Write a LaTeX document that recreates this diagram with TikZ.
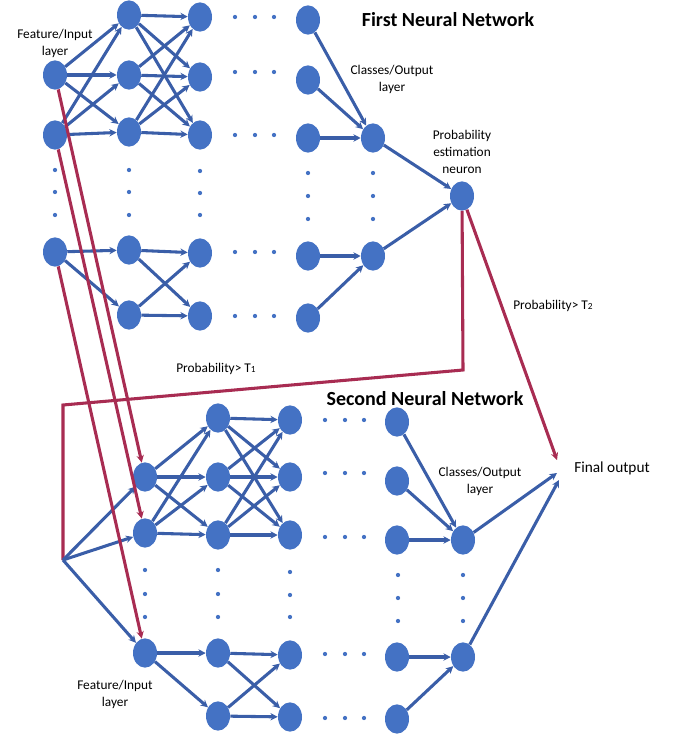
\documentclass[tikz,border=0pt]{standalone}
\usepackage{fontspec}
\setmainfont{Carlito}
\usepackage{tikz}
\usetikzlibrary{shapes.geometric, arrows.meta, positioning}

\definecolor{nnblue}{RGB}{68,114,196}
\definecolor{edgeblue}{RGB}{58,94,168}
\definecolor{thresred}{RGB}{168,44,82}

\begin{document}
\begin{tikzpicture}[x=0.75pt, y=-0.75pt]
    \tikzstyle{neuron} = [
        ellipse, fill=nnblue, inner sep=0pt,
        minimum width=18pt, minimum height=22pt
    ]

    \tikzstyle{edge} = [
        draw=edgeblue, line width=2.3pt, -{Stealth[length=5.5pt, width=5.5pt]}
    ]

    \tikzstyle{thres} = [
        draw=thresred, line width=2.3pt
    ]

    \tikzstyle{desc} = [align=center, font=\fontsize{10}{12.7}\selectfont]

    \tikzstyle{title} = [font=\fontsize{15}{18}\selectfont\bfseries]

    \useasboundingbox (0,0) rectangle (676,734);

    % First network: input layer
    \node[neuron] (i1) at (55,75) {};
    \node[neuron] (i2) at (55,135) {};
    \node[neuron] (i3) at (55,252) {};

    % First network: hidden layer 1
    \node[neuron] (a1) at (129,15) {};
    \node[neuron] (a2) at (129,75) {};
    \node[neuron] (a3) at (129,132) {};
    \node[neuron] (a4) at (129,250) {};
    \node[neuron] (a5) at (129,315) {};

    % First network: hidden layer 2
    \node[neuron] (b1) at (200,17) {};
    \node[neuron] (b2) at (200,77) {};
    \node[neuron] (b3) at (200,135) {};
    \node[neuron] (b4) at (200,253) {};
    \node[neuron] (b5) at (200,316) {};

    % First network: last hidden layer
    \node[neuron] (c1) at (308,20) {};
    \node[neuron] (c2) at (308,80) {};
    \node[neuron] (c3) at (308,138) {};
    \node[neuron] (c4) at (308,256) {};
    \node[neuron] (c5) at (308,318) {};

    % First network: output layer
    \node[neuron] (o1) at (373,138) {};
    \node[neuron] (o2) at (373,256) {};
    \node[neuron] (prob) at (462,196) {};

    % First network: labels
    \node[desc, above=-2pt of i1] (feat1) {Feature/Input\\layer};
    \node[title] (title1) at (448,20) {First Neural Network};
    \node[desc] (cls1) at (392,79) {Classes/Output\\layer};
    \node[desc, above=2pt of prob] (probdesc) {Probability\\estimation\\neuron};

    % First network: dots
    \fill[nnblue] (55,170) circle (1.6pt) (55,192) circle (1.6pt) (55,215) circle (1.6pt);
    \fill[nnblue] (129,170) circle (1.6pt) (129,192) circle (1.6pt) (129,215) circle (1.6pt);
    \fill[nnblue] (200,171) circle (1.6pt) (200,193) circle (1.6pt) (200,215) circle (1.6pt);
    \fill[nnblue] (308,173) circle (1.6pt) (308,196) circle (1.6pt) (308,219) circle (1.6pt);
    \fill[nnblue] (373,173) circle (1.6pt) (373,196) circle (1.6pt) (373,219) circle (1.6pt);
    \fill[nnblue] (235,17) circle (1.6pt) (255,17) circle (1.6pt) (274,17) circle (1.6pt);
    \fill[nnblue] (235,72) circle (1.6pt) (255,72) circle (1.6pt) (274,72) circle (1.6pt);
    \fill[nnblue] (235,135) circle (1.6pt) (255,135) circle (1.6pt) (274,135) circle (1.6pt);
    \fill[nnblue] (235,252) circle (1.6pt) (255,252) circle (1.6pt) (274,252) circle (1.6pt);
    \fill[nnblue] (235,316) circle (1.6pt) (255,316) circle (1.6pt) (274,316) circle (1.6pt);

    % First network: input -> hidden 1
    \draw[edge] (i1) -- (a1);
    \draw[edge] (i1) -- (a2);
    \draw[edge] (i1) -- (a3);
    \draw[edge] (i2) -- (a1);
    \draw[edge] (i2) -- (a2);
    \draw[edge] (i2) -- (a3);
    \draw[edge] (i3) -- (a4);
    \draw[edge] (i3) -- (a5);

    % First network: hidden 1 -> hidden 2
    \draw[edge] (a1) -- (b1);
    \draw[edge] (a1) -- (b2);
    \draw[edge] (a1) -- (b3);
    \draw[edge] (a2) -- (b1);
    \draw[edge] (a2) -- (b2);
    \draw[edge] (a2) -- (b3);
    \draw[edge] (a3) -- (b1);
    \draw[edge] (a3) -- (b2);
    \draw[edge] (a3) -- (b3);
    \draw[edge] (a4) -- (b4);
    \draw[edge] (a4) -- (b5);
    \draw[edge] (a5) -- (b4);
    \draw[edge] (a5) -- (b5);

    % First network: last hidden -> output -> probability
    \draw[edge] (c1) -- (o1);
    \draw[edge] (c2) -- (o1);
    \draw[edge] (c3) -- (o1);
    \draw[edge] (c4) -- (o2);
    \draw[edge] (c5) -- (o2);
    \draw[edge] (o1) -- (prob);
    \draw[edge] (o2) -- (prob);

    % Second network: input layer
    \node[neuron] (j1) at (145,477) {};
    \node[neuron] (j2) at (145,533) {};
    \node[neuron] (j3) at (145,653) {};

    % Second network: hidden layer 1
    \node[neuron] (d1) at (218,418) {};
    \node[neuron] (d2) at (218,477) {};
    \node[neuron] (d3) at (218,535) {};
    \node[neuron] (d4) at (218,653) {};
    \node[neuron] (d5) at (218,716) {};

    % Second network: hidden layer 2
    \node[neuron] (e1) at (290,420) {};
    \node[neuron] (e2) at (290,477) {};
    \node[neuron] (e3) at (290,535) {};
    \node[neuron] (e4) at (290,655) {};
    \node[neuron] (e5) at (290,717) {};

    % Second network: last hidden layer
    \node[neuron] (f1) at (397,422) {};
    \node[neuron] (f2) at (397,481) {};
    \node[neuron] (f3) at (397,540) {};
    \node[neuron] (f4) at (397,657) {};
    \node[neuron] (f5) at (397,719) {};

    % Second network: output layer
    \node[neuron] (p1) at (463,540) {};
    \node[neuron] (p2) at (463,657) {};

    % Second network: labels
    \node[title] (title2) at (425,399) {Second Neural Network};
    \node[desc] (cls2) at (480,481) {Classes/Output\\layer};
    \node[desc] (feat2) at (115,694) {Feature/Input\\layer};
    \node[desc, font=\fontsize{11.5}{14}\selectfont] (final) at (612,468) {Final output};
    \node[desc] (t1) at (216,369) {Probability> T{\fontsize{7}{8}\selectfont 1}};
    \node[desc] (t2) at (553,306) {Probability> T{\fontsize{7}{8}\selectfont 2}};

    % Second network: dots
    \fill[nnblue] (145,570) circle (1.6pt) (145,594) circle (1.6pt) (145,617) circle (1.6pt);
    \fill[nnblue] (218,570) circle (1.6pt) (218,594) circle (1.6pt) (218,617) circle (1.6pt);
    \fill[nnblue] (290,572) circle (1.6pt) (290,595) circle (1.6pt) (290,617) circle (1.6pt);
    \fill[nnblue] (398,575) circle (1.6pt) (398,598) circle (1.6pt) (398,621) circle (1.6pt);
    \fill[nnblue] (463,575) circle (1.6pt) (463,598) circle (1.6pt) (463,621) circle (1.6pt);
    \fill[nnblue] (325,420) circle (1.6pt) (345,420) circle (1.6pt) (364,420) circle (1.6pt);
    \fill[nnblue] (325,473) circle (1.6pt) (345,473) circle (1.6pt) (364,473) circle (1.6pt);
    \fill[nnblue] (325,537) circle (1.6pt) (345,537) circle (1.6pt) (364,537) circle (1.6pt);
    \fill[nnblue] (325,654) circle (1.6pt) (345,654) circle (1.6pt) (364,654) circle (1.6pt);
    \fill[nnblue] (325,718) circle (1.6pt) (345,718) circle (1.6pt) (364,718) circle (1.6pt);

    % Second network: input -> hidden 1
    \draw[edge] (j1) -- (d1);
    \draw[edge] (j1) -- (d2);
    \draw[edge] (j1) -- (d3);
    \draw[edge] (j2) -- (d1);
    \draw[edge] (j2) -- (d2);
    \draw[edge] (j2) -- (d3);
    \draw[edge] (j3) -- (d4);
    \draw[edge] (j3) -- (d5);

    % Second network: hidden 1 -> hidden 2
    \draw[edge] (d1) -- (e1);
    \draw[edge] (d1) -- (e2);
    \draw[edge] (d1) -- (e3);
    \draw[edge] (d2) -- (e1);
    \draw[edge] (d2) -- (e2);
    \draw[edge] (d2) -- (e3);
    \draw[edge] (d3) -- (e1);
    \draw[edge] (d3) -- (e2);
    \draw[edge] (d3) -- (e3);
    \draw[edge] (d4) -- (e4);
    \draw[edge] (d4) -- (e5);
    \draw[edge] (d5) -- (e4);
    \draw[edge] (d5) -- (e5);

    % Second network: last hidden -> output -> final
    \coordinate (fin_r) at (557,460);
    \coordinate (fin_a) at (557,473);
    \coordinate (fin_b) at (559,480);
    \draw[edge] (f1) -- (p1);
    \draw[edge] (f2) -- (p1);
    \draw[edge] (f3) -- (p1);
    \draw[edge] (f4) -- (p2);
    \draw[edge] (f5) -- (p2);
    \draw[edge] (p1) -- (fin_a);
    \draw[edge] (p2) -- (fin_b);

    % Threshold paths
    \coordinate (turn1) at (463,370);
    \coordinate (turn2) at (63,405);
    \coordinate (branch) at (63,560);
    \draw[thres] (prob) -- (turn1) -- (turn2) -- (branch);
    \draw[thres, -{Stealth[length=5.5pt, width=5.5pt]}] (prob) -- (fin_r);
    \draw[edge] (branch) -- (j1);
    \draw[edge] (branch) -- (j2);
    \draw[edge] (branch) -- (j3);
    \draw[thres, -{Stealth[length=5.5pt, width=5.5pt]}] (i1) -- (j1);
    \draw[thres, -{Stealth[length=5.5pt, width=5.5pt]}] (i2) -- (j2);
    \draw[thres, -{Stealth[length=5.5pt, width=5.5pt]}] (i3) -- (j3);

\end{tikzpicture}
\end{document}
